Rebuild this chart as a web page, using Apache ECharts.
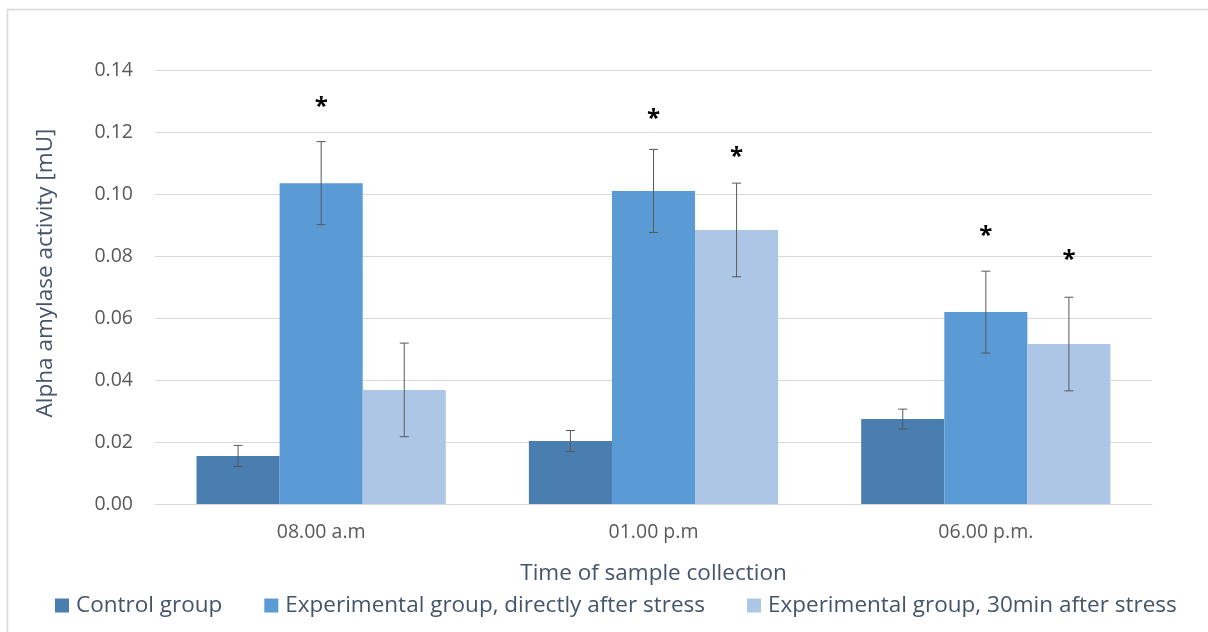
<!DOCTYPE html>
<html><head><meta charset="utf-8">
<script src="https://cdn.jsdelivr.net/npm/echarts@6/dist/echarts.min.js"></script>
<style>html,body{margin:0;padding:0;background:#fff}#c{width:1208px;height:632px}</style>
</head><body><div id="c"></div>
<script>
const categories = ['08.00 a.m', '01.00 p.m', '06.00 p.m.'];
const seriesNames = ['Control group', 'Experimental group, directly after stress', 'Experimental group, 30min after stress'];
const controlValues = [0.0155, 0.0203, 0.0274];
const directValues = [0.1035, 0.1010, 0.0619];
const min30Values = [0.0368, 0.0884, 0.0516];
const controlErr = [0.0034, 0.0034, 0.0032];
const directErr = [0.0134, 0.0134, 0.0132];
const min30Err = [0.0151, 0.0151, 0.0151];
// y-value at which an asterisk is drawn (null = none)
const controlStar = [null, null, null];
const directStar = [0.130, 0.1261, 0.0884];
const min30Star = [null, 0.1139, 0.0806];
const yTicks = [0, 0.02, 0.04, 0.06, 0.08, 0.10, 0.12, 0.14];
const xTitle = 'Time of sample collection';
const yTitle = 'Alpha amylase activity [mU]';

const colors = ['#4a7eb0', '#5b9bd5', '#adc6e6'];
const values = [controlValues, directValues, min30Values];
const errs = [controlErr, directErr, min30Err];
const stars = [controlStar, directStar, min30Star];
const font = 'Open Sans';
const titleColor = '#44546a';

const errData = [];
values.forEach((vals, s) => vals.forEach((v, i) => errData.push([i, v, errs[s][i], s, stars[s][i]])));

const chart = echarts.init(document.getElementById('c'));
chart.setOption({
  animation: false,
  color: colors,
  graphic: [
    {type: 'rect', shape: {x: 7.5, y: 9.5, width: 1300, height: 700}, style: {fill: null, stroke: '#d9d9d9', lineWidth: 1.5}, silent: true},
    {type: 'text', x: 46, y: 273, rotation: Math.PI / 2, style: {text: yTitle, fill: titleColor, font: '22.5px "Open Sans"', align: 'center', verticalAlign: 'middle'}, silent: true}
  ],
  grid: {left: 155, right: 56, top: 70, bottom: 128},
  legend: {
    left: 50, bottom: 10, icon: 'rect', itemWidth: 14, itemHeight: 14, itemGap: 42,
    textStyle: {color: titleColor, fontFamily: font, fontSize: 22.5, padding: [0, 0, 0, 2]},
    data: seriesNames
  },
  xAxis: {
    type: 'category', data: categories,
    name: xTitle, nameLocation: 'middle', nameGap: 58,
    nameTextStyle: {color: titleColor, fontFamily: font, fontSize: 22.5},
    axisLine: {lineStyle: {color: '#d9d9d9'}}, axisTick: {show: false},
    axisLabel: {color: '#595959', fontFamily: font, fontSize: 19.5, margin: 18}
  },
  yAxis: {
    type: 'value', min: 0, max: 0.14, interval: 0.02,
    axisLine: {show: false}, axisTick: {show: false},
    splitLine: {lineStyle: {color: '#d9d9d9'}},
    axisLabel: {color: '#595959', fontFamily: font, fontSize: 19.5, margin: 22, formatter: v => v.toFixed(2)}
  },
  series: [
    ...seriesNames.map((n, s) => ({
      name: n, type: 'bar', data: values[s], barGap: '0%', barCategoryGap: '25%',
      itemStyle: {color: colors[s]}
    })),
    {
      type: 'custom', data: errData, z: 10, silent: true,
      renderItem: function (params, api) {
        const i = api.value(0), v = api.value(1), e = api.value(2), s = api.value(3), st = api.value(4);
        const band = api.size([1, 0])[0];
        const bw = band * 0.75 / 3;
        const cx = api.coord([i, v])[0] + (s - 1) * bw;
        const yHi = api.coord([i, v + e])[1];
        const yLo = api.coord([i, v - e])[1];
        const w = 4.5;
        const st2 = {stroke: '#595959', lineWidth: 1};
        const children = [
          {type: 'line', shape: {x1: cx, y1: yHi, x2: cx, y2: yLo}, style: st2},
          {type: 'line', shape: {x1: cx - w, y1: yHi, x2: cx + w, y2: yHi}, style: st2},
          {type: 'line', shape: {x1: cx - w, y1: yLo, x2: cx + w, y2: yLo}, style: st2}
        ];
        if (st != null && !isNaN(st)) {
          const sy = api.coord([i, st])[1];
          children.push({type: 'text', x: cx, y: sy - 6, style: {text: '*', fill: '#000', font: 'bold 24px "Open Sans"', align: 'center', verticalAlign: 'top'}});
        }
        return {type: 'group', children};
      }
    }
  ]
});
</script></body></html>
